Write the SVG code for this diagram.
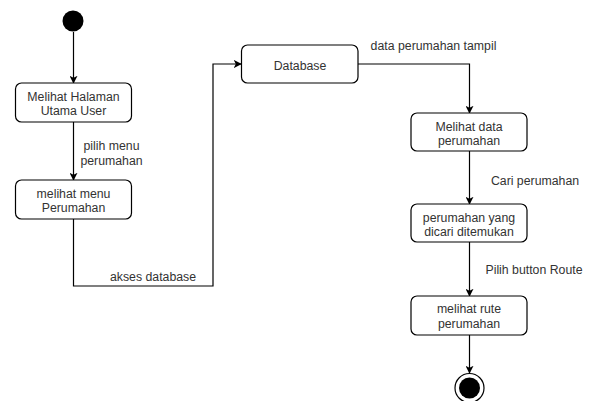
<svg xmlns="http://www.w3.org/2000/svg" width="590" height="401" viewBox="0 0 590 401">
<style>
.node{fill:#fff;stroke:#000;stroke-width:1.2}
.t{font-family:"Liberation Sans",Arial,sans-serif;font-size:12.3px;fill:#333;text-anchor:middle}
.e{fill:none;stroke:#000;stroke-width:1.2;marker-end:url(#ah)}
</style>
<defs>
<marker id="ah" viewBox="0 0 10 10" refX="9" refY="5" markerWidth="8" markerHeight="8" markerUnits="userSpaceOnUse" orient="auto">
<path d="M0,0 L10,5 L0,10 L2.5,5 Z" fill="#000"/>
</marker>
</defs>
<rect width="590" height="401" fill="#fff"/>
<g id="connectors">
<path class="e" d="M73.5,32 V83"/>
<path class="e" d="M73.5,122 V180"/>
<path class="e" d="M73.5,219 V286 H213 V64 H241"/>
<path class="e" d="M358,64 H469.5 V113"/>
<path class="e" d="M469.5,151 V204"/>
<path class="e" d="M469.5,242 V296"/>
<path class="e" d="M469.5,335 V373"/>
<text class="t" x="111.5" y="150">pilih menu</text>
<text class="t" x="111.5" y="164.5">perumahan</text>
<text class="t" x="153" y="281">akses database</text>
<text class="t" x="433.5" y="50">data perumahan tampil</text>
<text class="t" x="535" y="185">Cari perumahan</text>
<text class="t" x="534" y="274">Pilih button Route</text>
</g>
<g id="start"><circle cx="73" cy="21" r="10.5" fill="#000"/></g>
<g id="n1"><rect class="node" x="15.5" y="83" width="116" height="39" rx="6"/>
<text class="t" x="73.5" y="101">Melihat Halaman</text><text class="t" x="73.5" y="115">Utama User</text></g>
<g id="n2"><rect class="node" x="15.5" y="180" width="116" height="39" rx="6"/>
<text class="t" x="73.5" y="198">melihat menu</text><text class="t" x="73.5" y="212">Perumahan</text></g>
<g id="n3"><rect class="node" x="241.5" y="45" width="116.5" height="38" rx="6"/>
<text class="t" x="300" y="70">Database</text></g>
<g id="n4"><rect class="node" x="411" y="113" width="116" height="38" rx="6"/>
<text class="t" x="469" y="131">Melihat data</text><text class="t" x="469" y="145">perumahan</text></g>
<g id="n5"><rect class="node" x="411" y="204" width="116" height="38" rx="6"/>
<text class="t" x="469" y="222">perumahan yang</text><text class="t" x="469" y="236">dicari ditemukan</text></g>
<g id="n6"><rect class="node" x="411" y="296" width="116" height="39" rx="6"/>
<text class="t" x="469" y="313">melihat rute</text><text class="t" x="469" y="327.5">perumahan</text></g>
<g id="end"><circle cx="469.5" cy="388" r="14.5" fill="#fff" stroke="#000" stroke-width="1.2"/><circle cx="469.5" cy="388" r="10.5" fill="#000"/></g>
</svg>
